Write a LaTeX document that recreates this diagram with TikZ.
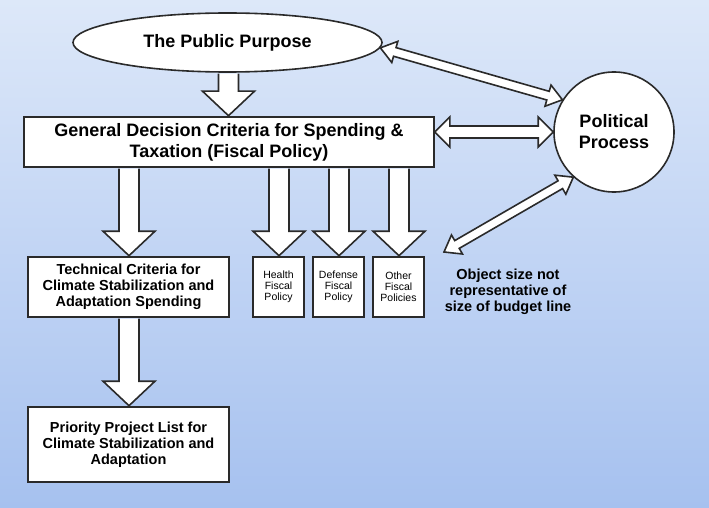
\documentclass[tikz,border=0pt]{standalone}
\usepackage{fontspec}
\setmainfont{Liberation Sans}
\usetikzlibrary{shapes.geometric,calc}
\definecolor{bgtop}{HTML}{DDE8F9}
\definecolor{bgbot}{HTML}{A6C1EF}
\definecolor{ink}{HTML}{2A2A2A}
\tikzset{
  box/.style={draw=ink, line width=1.6pt, fill=white, inner sep=0pt, align=center},
  big/.style={font=\fontsize{18}{21}\selectfont\bfseries},
  mid/.style={font=\fontsize{14.5}{16.2}\selectfont\bfseries},
  small/.style={font=\fontsize{10.5}{11}\selectfont},
  blk/.style={draw=ink, line width=1.6pt, fill=white, line join=miter},
}
\newcommand\blkdown[3]{%
  \draw[blk] let \p1=(#1.south), \p2=(#2.north) in
    (#3-10,\y1-0.8) -- (#3-10,\y2+25) -- (#3-26,\y2+25) -- (#3,\y2+0.5)
    -- (#3+26,\y2+25) -- (#3+10,\y2+25) -- (#3+10,\y1-0.8);}
\newcommand\dblarrow[5]{%
  \draw[blk] let \p1=(#1), \p2=(#2),
    \n1={atan2(\y2-\y1,\x2-\x1)}, \n2={veclen(\x2-\x1,\y2-\y1)} in
    [shift={(\p1)}, rotate=\n1]
    (0,0) -- (#5,#4) -- (#5,#3) -- (\n2-#5,#3) -- (\n2-#5,#4) -- (\n2,0)
    -- (\n2-#5,-#4) -- (\n2-#5,-#3) -- (#5,-#3) -- (#5,-#4) -- cycle;}
\begin{document}
\begin{tikzpicture}[x=1pt,y=-1pt]
\shade[top color=bgtop, bottom color=bgbot] (0,0) rectangle (709,508);
\useasboundingbox (0,0) rectangle (709,508);

\node[box, ellipse, minimum width=309, minimum height=59, big] (pub) at (227.5,42.5) {The Public Purpose};
\node[box, minimum width=410, minimum height=50, big] (gen) at (229,142) {General Decision Criteria for Spending \&\\Taxation (Fiscal Policy)};
\node[box, circle, minimum size=120, big] (pol) at (614,132) {Political\\Process};

\node[box, minimum width=201, minimum height=60, mid] (tech) at (128.5,287) {Technical Criteria for\\Climate Stabilization and\\Adaptation Spending};
\node[box, minimum width=201, minimum height=75, mid] (prio) at (128.5,444.5) {Priority Project List for\\Climate Stabilization and\\Adaptation};

\node[box, minimum width=51, minimum height=60, small] (health) at (278.5,287) {Health\\Fiscal\\Policy};
\node[box, minimum width=51, minimum height=60, small] (def) at (338.5,287) {Defense\\Fiscal\\Policy};
\node[box, minimum width=51, minimum height=60, small] (oth) at (398.5,287) {Other\\Fiscal\\Policies};

\node[mid, align=center] (note) at (508,292) {Object size not\\representative of\\size of budget line};

\blkdown{pub}{gen}{228.5}
\blkdown{gen}{tech}{129}
\blkdown{tech}{prio}{129}
\blkdown{gen}{health}{279}
\blkdown{gen}{def}{339}
\blkdown{gen}{oth}{399}

\coordinate (genr) at (gen.east |- pol.west);
\coordinate (free) at (444,252);
\dblarrow{pub.-2}{pol.148}{4.5}{11}{15}
\dblarrow{genr}{pol.west}{6}{15}{15}
\dblarrow{pol.228}{free}{4.5}{11}{15}
\end{tikzpicture}
\end{document}
